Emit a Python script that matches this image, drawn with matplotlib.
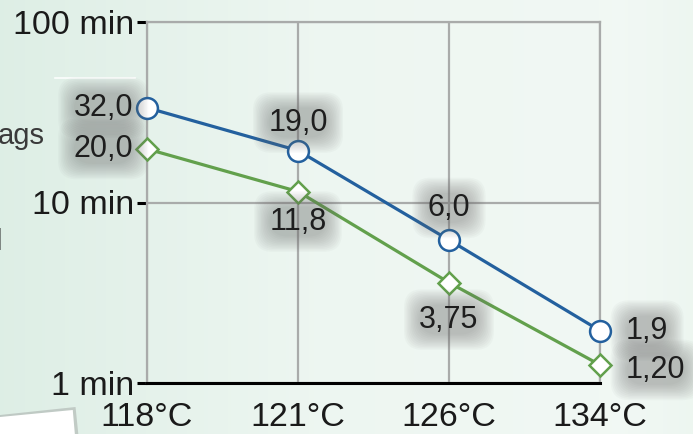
import numpy as np
import matplotlib
matplotlib.use("Agg")
import matplotlib.pyplot as plt
from matplotlib.patches import Polygon

plt.rcParams["font.family"] = ["Liberation Sans", "DejaVu Sans"]

# data
temps = ["118°C", "121°C", "126°C", "134°C"]
blue_vals = [33.5, 19.4, 6.2, 1.95]
green_vals = [19.8, 11.5, 3.6, 1.26]
blue_labels = ["32,0", "19,0", "6,0", "1,9"]
green_labels = ["20,0", "11,8", "3,75", "1,20"]
yticks = [1, 10, 100]
ytick_labels = ["1 min", "10 min", "100 min"]

BLUE = "#23609e"
GREEN = "#62a04c"
GRID = "#a9abaa"
PX = 0.72  # points per pixel at dpi 100

fig = plt.figure(figsize=(6.93, 4.34), dpi=100)

# background gradient
bg = fig.add_axes([0, 0, 1, 1], zorder=-10)
xx = np.linspace(0, 1, 300)
yy = np.linspace(0, 1, 200)
X, Y = np.meshgrid(xx, yy)
left = np.array([0.87, 0.935, 0.90])
mid = np.array([0.93, 0.965, 0.945])
right = np.array([0.95, 0.975, 0.96])
t = np.clip(X / 0.45, 0, 1)[..., None]
img = left * (1 - t) + mid * t
t2 = np.clip((X - 0.45) / 0.55, 0, 1)[..., None]
img = img * (1 - t2) + right * t2
edge = np.clip((X - 0.9) / 0.1, 0, 1)[..., None]
img = img * (1 - 0.4 * edge) + np.array([0.9, 0.95, 0.92]) * 0.4 * edge
bg.imshow(img, extent=[0, 1, 0, 1], aspect="auto", origin="lower")
bg.set_xlim(0, 1); bg.set_ylim(0, 1); bg.axis("off")

# white paper corner bottom-left with soft edge
bg.add_patch(Polygon([(0, 1 - 415/434), (0.109, 1 - 407/434), (0.113, 0), (0, 0)],
                     closed=True, facecolor="#9a9e9c", edgecolor="none", alpha=0.45))
bg.add_patch(Polygon([(0, 1 - 417/434), (0.105, 1 - 410/434), (0.108, 0), (0, 0)],
                     closed=True, facecolor="white", edgecolor="none"))
bg.plot([55/693, 135/693], [1 - 78/434, 1 - 78/434], color="white", lw=1.2, alpha=0.9)
fig.text(-2/693, 1 - 136/434, "ags", fontsize=21, color="#3a3a3a", va="center", ha="left")
fig.text(-4/693, 1 - 242/434, "l", fontsize=21, color="#222222", va="center", ha="left")

ax = fig.add_axes([147/693, 51/434, 453/693, 361/434])
ax.patch.set_alpha(0)
x = np.arange(len(temps))
ax.set_yscale("log")
ax.set_ylim(1, 100)
ax.set_xlim(0, 3)

ax.plot(x, blue_vals, color=BLUE, lw=2.3, marker="o", ms=15, mfc="white",
        mec=BLUE, mew=1.8, zorder=5, clip_on=False)
ax.plot(x, green_vals, color=GREEN, lw=2.3, marker="D", ms=11, mfc="white",
        mec=GREEN, mew=1.8, zorder=4, clip_on=False)

ax.set_yticks(yticks)
ax.set_yticklabels(ytick_labels)
ax.minorticks_off()
ax.set_xticks(x)
ax.set_xticklabels(temps)
ax.tick_params(axis="y", length=7, width=2.2, color="black", pad=2,
               labelsize=24.5, labelcolor="#1a1a1a")
ax.tick_params(axis="x", length=0, pad=14, labelsize=24.5, labelcolor="#1a1a1a")
ax.grid(True, color=GRID, lw=1.6)
for s in ["left", "top", "right"]:
    ax.spines[s].set_color(GRID)
    ax.spines[s].set_linewidth(1.6)
ax.spines["bottom"].set_color("black")
ax.spines["bottom"].set_linewidth(2.2)


def label(xi, yi, txt, dx, dy, ha):
    for pad in np.linspace(0.5, 0.0, 12):
        ax.annotate(txt, (xi, yi), xytext=(dx * PX, dy * PX), textcoords="offset points",
                    ha=ha, va="center", fontsize=22, color=(0, 0, 0, 0),
                    bbox=dict(boxstyle=f"round,pad={pad:.3f},rounding_size=0.6",
                              fc="#6a6a6a", ec="none", alpha=0.04),
                    zorder=6, annotation_clip=False)
    ax.annotate(txt, (xi, yi), xytext=(dx * PX, dy * PX), textcoords="offset points",
                ha=ha, va="center", fontsize=22, color="#1e1e1e", zorder=7,
                annotation_clip=False)


blue_off = [(-14, 0, "right"), (0, -28, "center"), (0, -32, "center"), (26, 0, "left")]
green_off = [(-14, 0, "right"), (0, 30, "center"), (0, 37, "center"), (26, 5, "left")]
for i in range(len(temps)):
    dx, dy, ha = blue_off[i]
    label(x[i], blue_vals[i], blue_labels[i], dx, -dy, ha)
    dx, dy, ha = green_off[i]
    label(x[i], green_vals[i], green_labels[i], dx, -dy, ha)

fig.savefig("out.png", dpi=100)
